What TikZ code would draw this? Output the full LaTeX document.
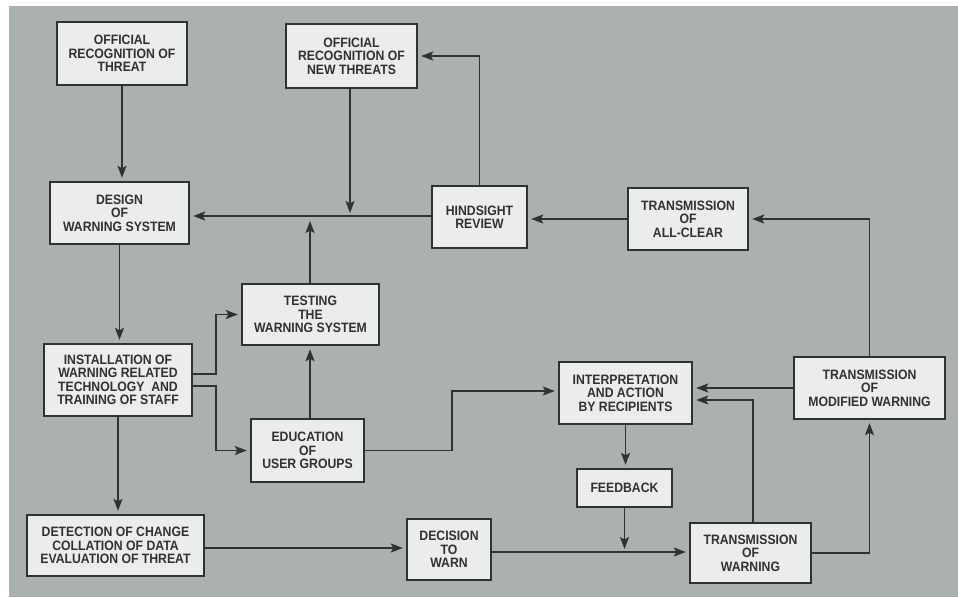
\documentclass[tikz,border=0pt]{standalone}
\usepackage{fontspec}
\newfontfamily\boxfont[FakeStretch=0.9]{Liberation Sans}
\usetikzlibrary{arrows.meta}
\definecolor{panel}{RGB}{170,177,175}
\definecolor{boxfill}{RGB}{234,237,235}
\definecolor{ink}{RGB}{48,50,50}
\tikzset{
  box/.style={draw=ink, line width=2.4pt, fill=boxfill, text=ink, align=center,
    inner sep=0pt, font=\boxfont\bfseries\fontsize{13.6}{13.4}\selectfont},
  arr/.style={draw=ink, line width=1.6pt, shorten >=3pt,
    -{Stealth[length=12pt,width=9pt,inset=2.5pt]}},
  link/.style={draw=ink, line width=1.6pt}
}
\begin{document}
\begin{tikzpicture}[x=1pt,y=-1pt]
% page and grey panel
\useasboundingbox (0,0) rectangle (958,597);
\fill[white] (0,0) rectangle (958,597);
\fill[panel] (9,6) rectangle (958,597);

% boxes
\node[box, minimum width=130, minimum height=63] (ort) at (122,53.5) {OFFICIAL\\RECOGNITION OF\\THREAT};
\node[box, minimum width=131, minimum height=64] (ornt) at (351.5,56) {OFFICIAL\\RECOGNITION OF\\NEW THREATS};
\node[box, minimum width=139, minimum height=62] (design) at (119.5,213) {DESIGN\\OF\\WARNING SYSTEM};
\node[box, minimum width=95, minimum height=62] (hind) at (479.5,217) {HINDSIGHT\\REVIEW};
\node[box, minimum width=120, minimum height=62] (allclear) at (688,219) {TRANSMISSION\\OF\\ALL-CLEAR};
\node[box, minimum width=137, minimum height=61] (testing) at (310.5,314.5) {TESTING\\THE\\WARNING SYSTEM};
\node[box, minimum width=148, minimum height=72] (install) at (118,380) {INSTALLATION OF\\WARNING RELATED\\TECHNOLOGY~ AND\\TRAINING OF STAFF};
\node[box, minimum width=113, minimum height=63] (edu) at (307.5,450.5) {EDUCATION\\OF\\USER GROUPS};
\node[box, minimum width=177, minimum height=61] (detect) at (115.5,545.5) {DETECTION OF CHANGE\\COLLATION OF DATA\\EVALUATION OF THREAT};
\node[box, minimum width=84, minimum height=61] (decide) at (449,549.5) {DECISION\\TO\\WARN};
\node[box, minimum width=133, minimum height=62] (interp) at (625.5,393) {INTERPRETATION\\AND ACTION\\BY RECIPIENTS};
\node[box, minimum width=95, minimum height=38] (feedback) at (624.5,488) {FEEDBACK};
\node[box, minimum width=121, minimum height=60] (transw) at (750.5,553) {TRANSMISSION\\OF\\WARNING};
\node[box, minimum width=151, minimum height=62] (modw) at (869.5,388) {TRANSMISSION\\OF\\MODIFIED WARNING};

% bend and junction points
\coordinate (jT) at (216,374);
\coordinate (jE) at (216,386);
\coordinate (xT) at (310,0);
\coordinate (hitA) at (310,216);
\coordinate (hitB) at (350,216);
\coordinate (yDF) at (0,548);
\coordinate (ys) at (0,552);
\coordinate (o) at (753,400);
\coordinate (pk) at (452,391);

% left column
\draw[arr] (ort.south) -- (ort.south |- design.north);
\draw[arr] (design.south) -- (design.south |- install.north);
\draw[arr] (install.south) -- (install.south |- detect.north);
\draw[arr] (jT -| install.east) -- (jT) |- (testing.west);
\draw[arr] (jE -| install.east) -- (jE) |- (edu.west);
\draw[arr] (xT |- edu.north) -- (xT |- testing.south);
\draw[arr, shorten >=5pt] (xT |- testing.north) -- (hitA);
\draw[arr] (ornt.south -| hitB) -- (hitB);

% review loop
\draw[arr] (hind.west |- hitA) -- (hitA -| design.east);
\draw[arr] (hind.north) |- (ornt.east);
\draw[arr] (allclear.west) -- (allclear.west -| hind.east);
\draw[arr] (modw.north) |- (allclear.east);

% warning chain
\draw[arr] (yDF -| detect.east) -- (yDF -| decide.west);
\draw[arr] (ys -| decide.east) -- (ys -| transw.west);
\draw[arr] (transw.east) -| (modw.south);
\draw[arr] (modw.west) -- (modw.west -| interp.east);
\draw[arr] (o |- transw.north) -- (o) -- (o -| interp.east);
\draw[arr] (edu.east) -| (pk) -- (pk -| interp.west);
\draw[arr] (interp.south) -- (interp.south |- feedback.north);
\draw[arr] (feedback.south) -- (feedback.south |- ys);
\end{tikzpicture}
\end{document}
